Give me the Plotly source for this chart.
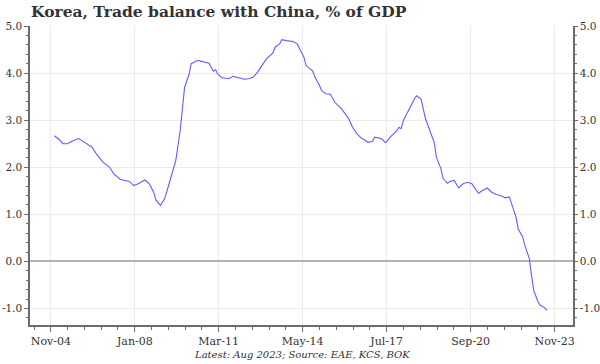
import plotly.graph_objects as go
import pandas as pd

# ---- data ----
dates = [
    "2005-01", "2005-03", "2005-05", "2005-07", "2005-09", "2005-12", "2006-02", "2006-04",
    "2006-06", "2006-08", "2006-11", "2007-02", "2007-04", "2007-07", "2007-09", "2007-11",
    "2008-01", "2008-03", "2008-06", "2008-08", "2008-10", "2008-11", "2009-01", "2009-03",
    "2009-05", "2009-08", "2009-10", "2009-12", "2010-02", "2010-03", "2010-06", "2010-08",
    "2010-11", "2010-12", "2011-01", "2011-02", "2011-03", "2011-05", "2011-08", "2011-10",
    "2011-12", "2012-03", "2012-05", "2012-07", "2012-09", "2012-11", "2013-01", "2013-04",
    "2013-05", "2013-07", "2013-08", "2013-10", "2014-01", "2014-03", "2014-04", "2014-06",
    "2014-07", "2014-10", "2014-11", "2015-01", "2015-02", "2015-04", "2015-06", "2015-08",
    "2015-11", "2016-02", "2016-04", "2016-06", "2016-08", "2016-11", "2017-01", "2017-02",
    "2017-05", "2017-07", "2017-09", "2017-12", "2018-01", "2018-02", "2018-03", "2018-06",
    "2018-08", "2018-09", "2018-11", "2019-01", "2019-03", "2019-05", "2019-06", "2019-08",
    "2019-09", "2019-11", "2019-12", "2020-02", "2020-04", "2020-06", "2020-08", "2020-10",
    "2020-12", "2021-01", "2021-03", "2021-05", "2021-07", "2021-09", "2021-11", "2022-01",
    "2022-03", "2022-04", "2022-06", "2022-07", "2022-09", "2022-10", "2022-12", "2023-01",
    "2023-02", "2023-04", "2023-05", "2023-07", "2023-08",
]
balance = [
    2.67, 2.60, 2.50, 2.50, 2.55, 2.61, 2.55, 2.50,
    2.43, 2.29, 2.11, 2.00, 1.86, 1.74, 1.72, 1.70,
    1.61, 1.65, 1.73, 1.65, 1.47, 1.30, 1.19, 1.33,
    1.65, 2.14, 2.78, 3.70, 3.98, 4.20, 4.27, 4.25,
    4.21, 4.13, 4.04, 4.07, 3.98, 3.90, 3.88, 3.93,
    3.90, 3.87, 3.88, 3.91, 4.02, 4.16, 4.30, 4.43,
    4.55, 4.62, 4.71, 4.69, 4.67, 4.62, 4.52, 4.34,
    4.16, 4.04, 3.91, 3.74, 3.62, 3.56, 3.55, 3.38,
    3.24, 3.05, 2.85, 2.71, 2.62, 2.53, 2.55, 2.64,
    2.61, 2.52, 2.64, 2.77, 2.85, 2.82, 2.99, 3.28,
    3.45, 3.52, 3.45, 3.03, 2.78, 2.53, 2.21, 1.97,
    1.76, 1.66, 1.70, 1.72, 1.56, 1.65, 1.68, 1.65,
    1.51, 1.45, 1.51, 1.56, 1.47, 1.42, 1.40, 1.35,
    1.37, 1.22, 0.94, 0.69, 0.52, 0.34, 0.06, -0.30,
    -0.62, -0.86, -0.93, -0.98, -1.04,
]

x_tick_dates = ["2004-11-15", "2008-01-15", "2011-03-15", "2014-05-15",
                "2017-07-15", "2020-09-15", "2023-11-15"]
x_tick_labels = ["Nov-04", "Jan-08", "Mar-11", "May-14", "Jul-17", "Sep-20", "Nov-23"]
y_tick_vals = [-1, 0, 1, 2, 3, 4, 5]
y_tick_labels = ["-1.0", "0.0", "1.0", "2.0", "3.0", "4.0", "5.0"]

title_text = "Korea, Trade balance with China, % of GDP"
footer_text = "Latest: Aug 2023; Source: EAE, KCS, BOK"

# ---- minor x ticks: 4 evenly spaced between majors ----
maj = pd.to_datetime(x_tick_dates)
minor_x = []
step = (maj[1] - maj[0]) / 5
minor_x.append(maj[0] - step)
for a, b in zip(maj[:-1], maj[1:]):
    st = (b - a) / 5
    for k in range(1, 5):
        minor_x.append(a + st * k)
minor_x = [d.strftime("%Y-%m-%d") for d in minor_x]

FONT = "DejaVu Serif"
AX = "#6b6b6b"
GRID = "#ebebeb"
TXT = "#333333"

fig = go.Figure()
fig.add_trace(go.Scatter(
    x=dates, y=balance, mode="lines",
    line=dict(color="#5f5fff", width=1.1),
    showlegend=False, hoverinfo="skip",
))
# invisible companion trace so the right-hand axis renders
fig.add_trace(go.Scatter(
    x=dates[:1], y=balance[:1], mode="markers", yaxis="y2",
    marker=dict(opacity=0), showlegend=False, hoverinfo="skip",
))

x_range = ["2004-02-01", "2024-07-25"]
y_range = [-1.35, 5.0]

fig.update_layout(
    width=600, height=364,
    margin=dict(l=30, r=27, t=26, b=39, autoexpand=False),
    paper_bgcolor="white", plot_bgcolor="white",
    font=dict(family=FONT, size=11, color=TXT),
    title=dict(text="<b>" + title_text + "</b>", x=31 / 600, xanchor="left",
               xref="container", yref="container", y=1 - 12 / 364, yanchor="middle",
               font=dict(family=FONT, size=15.5, color=TXT)),
    xaxis=dict(
        type="date", range=x_range, automargin=False,
        tickmode="array", tickvals=x_tick_dates, ticktext=x_tick_labels,
        ticks="outside", ticklen=5, tickcolor=AX, tickwidth=1,
        showline=True, linecolor=AX, linewidth=1.5,
        showgrid=True, gridcolor=GRID, gridwidth=1,
        zeroline=False,
        minor=dict(tickmode="array", tickvals=minor_x, ticks="outside",
                   ticklen=3, tickcolor=AX, showgrid=False),
        tickfont=dict(family=FONT, size=11, color=TXT),
    ),
    yaxis=dict(
        range=y_range, automargin=False,
        tickmode="array", tickvals=y_tick_vals, ticktext=y_tick_labels,
        ticks="outside", ticklen=4, tickcolor=AX,
        showline=True, linecolor=AX, linewidth=1.5,
        showgrid=True, gridcolor=GRID, gridwidth=1,
        zeroline=True, zerolinecolor="#b3b3b3", zerolinewidth=1.5,
        minor=dict(dtick=0.2, tick0=0, ticks="outside", ticklen=2,
                   tickcolor=AX, showgrid=False),
        tickfont=dict(family=FONT, size=10.5, color=TXT),
    ),
    yaxis2=dict(
        range=y_range, overlaying="y", side="right", automargin=False,
        tickmode="array", tickvals=y_tick_vals, ticktext=y_tick_labels,
        ticks="outside", ticklen=3, tickcolor=AX,
        showline=True, linecolor=AX, linewidth=1.5,
        showgrid=False, zeroline=False,
        minor=dict(dtick=0.2, tick0=0, ticks="outside", ticklen=2,
                   tickcolor=AX, showgrid=False),
        tickfont=dict(family=FONT, size=10.5, color=TXT),
    ),
    annotations=[dict(
        text="<i>" + footer_text + "</i>", xref="paper", yref="paper",
        x=0.5, y=-0.1, xanchor="center", yanchor="middle", showarrow=False,
        font=dict(family=FONT, size=10, color=TXT),
    )],
)

fig.write_html("out.html", config={"displayModeBar": False},
               post_script="document.body.style.margin='0';document.body.style.overflow='hidden';")
